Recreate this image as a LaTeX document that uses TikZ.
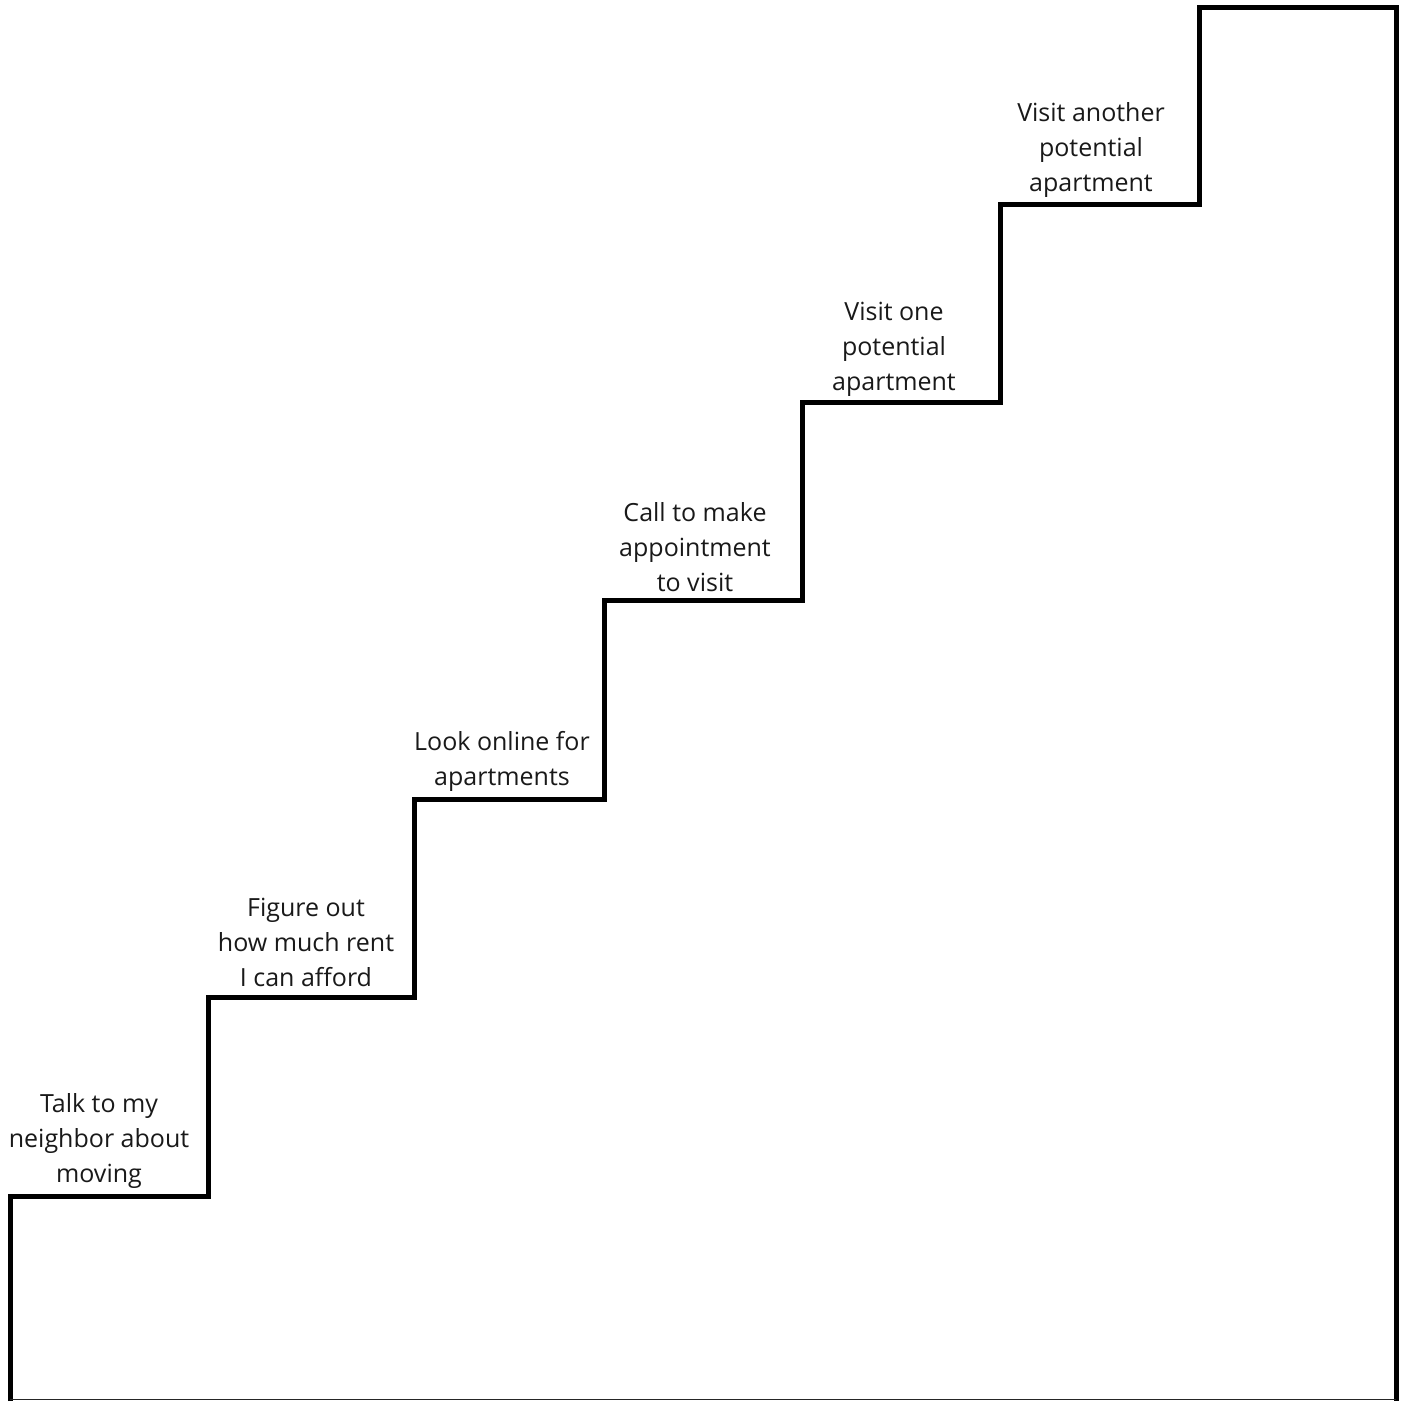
\documentclass[tikz,border=0pt]{standalone}
\usepackage{fontspec}
\setmainfont{Open Sans}
\begin{document}
\begin{tikzpicture}[x=1pt,y=1pt,
  stair/.style={line width=5pt, line join=miter, black},
  floorline/.style={line width=1.5pt, black!85},
  steplabel/.style={align=center, inner sep=0pt, font=\fontsize{25}{35}\selectfont, text=black!90}]
\useasboundingbox (0,0) rectangle (1405,1401);
% staircase corners (image y converted: 1401 - y)
\coordinate (p0) at (10,0);
\coordinate (p1) at (10,205);
\coordinate (p2) at (208,205);
\coordinate (p3) at (208,403);
\coordinate (p4) at (414,403);
\coordinate (p5) at (414,601);
\coordinate (p6) at (604,601);
\coordinate (p7) at (604,800);
\coordinate (p8) at (802,800);
\coordinate (p9) at (802,998);
\coordinate (p10) at (1000,998);
\coordinate (p11) at (1000,1196);
\coordinate (p12) at (1199,1196);
\coordinate (p13) at (1199,1393.5);
\coordinate (p14) at (1396,1393.5);
\coordinate (p15) at (1396,0);
\coordinate (f0) at (10,1.5);
\coordinate (f1) at (1396,1.5);
\draw[stair] (p0) -- (p1) -- (p2) -- (p3) -- (p4) -- (p5) -- (p6) -- (p7)
  -- (p8) -- (p9) -- (p10) -- (p11) -- (p12) -- (p13) -- (p14) -- (p15);
\draw[floorline] (f0) -- (f1);
% labels
\node[steplabel] (s1) at (99,260) {Talk to my\\neighbor about\\moving};
\node[steplabel] (s2) at (306,459) {Figure out\\how much rent\\I can afford};
\node[steplabel] (s3) at (502,640) {Look online for\\apartments};
\node[steplabel] (s4) at (695,854) {Call to make\\appointment\\to visit};
\node[steplabel] (s5) at (894,1052) {Visit one\\potential\\apartment};
\node[steplabel] (s6) at (1091,1250.5) {Visit another\\potential\\apartment};
\end{tikzpicture}
\end{document}
